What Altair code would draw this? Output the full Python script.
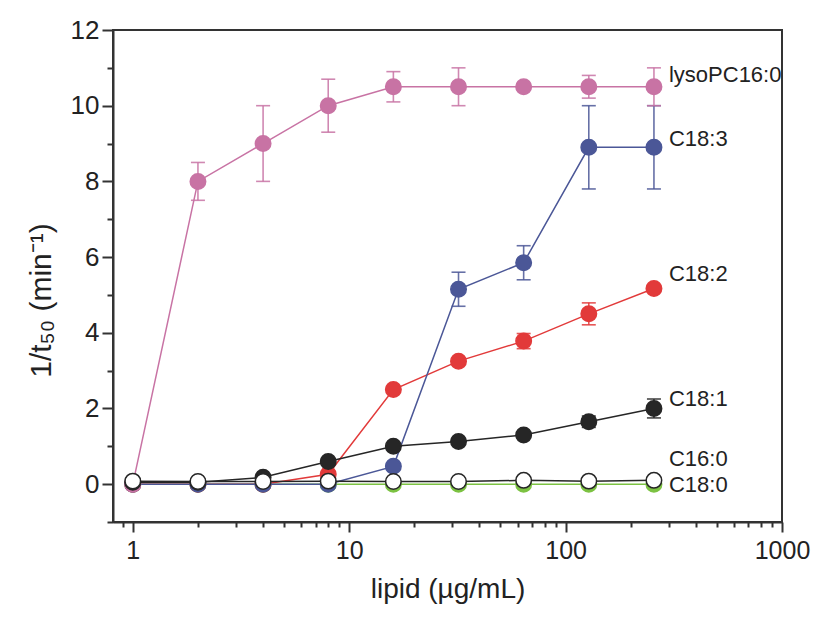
import altair as alt
import pandas as pd

conc = [1, 2, 4, 8, 16, 32, 64, 128, 256]

names = ["C18:0", "C18:2", "C18:3", "lysoPC16:0", "C18:1", "C16:0"]
colors = ["#7CC242", "#E23A3A", "#4B5797", "#C873A4", "#262626", "#FFFFFF"]
strokes = ["#7CC242", "#E23A3A", "#4B5797", "#C873A4", "#262626", "#262626"]

c180 = [0, 0, 0, 0, 0, 0, 0, 0, 0]
c182 = [0, 0, 0, 0.26, 2.5, 3.25, 3.78, 4.5, 5.17]
c183 = [0, 0, 0, 0, 0.47, 5.15, 5.85, 8.9, 8.9]
lyso = [0, 8.0, 9.0, 10.0, 10.5, 10.5, 10.5, 10.5, 10.5]
c181 = [0.05, 0.05, 0.18, 0.6, 1.0, 1.13, 1.3, 1.65, 2.0]
c160 = [0.08, 0.07, 0.07, 0.08, 0.07, 0.07, 0.1, 0.08, 0.1]

e180 = [0, 0, 0, 0, 0, 0, 0, 0, 0]
e182 = [0, 0, 0, 0, 0, 0, 0.2, 0.29, 0.1]
e183 = [0, 0, 0, 0, 0, 0.45, 0.45, 1.1, 1.1]
elyso = [0, 0.5, 1.0, 0.7, 0.4, 0.5, 0, 0.3, 0.5]
e181 = [0, 0, 0, 0, 0, 0, 0, 0.15, 0.25]
e160 = [0, 0, 0, 0, 0, 0, 0, 0, 0]

values = [c180, c182, c183, lyso, c181, c160]
errors = [e180, e182, e183, elyso, e181, e160]

label_text = ["C18:0", "lysoPC16:0", "C18:3", "C18:2", "C18:1", "C16:0"]
label_y = [-0.03, 10.8, 9.13, 5.54, 2.24, 0.66]

x_major = [1, 10, 100, 1000]
x_minor = [0.9, 2, 3, 4, 5, 6, 7, 8, 9, 20, 30, 40, 50, 60, 70, 80, 90,
           200, 300, 400, 500, 600, 700, 800, 900]
y_major = [0, 2, 4, 6, 8, 10, 12]
y_minor = [-1, 1, 3, 5, 7, 9, 11]

FONT = "Liberation Sans"
xscale = alt.Scale(type="log", domain=[0.81, 1000], nice=False)
yscale = alt.Scale(domain=[-1, 12], nice=False, zero=False)

xaxis = alt.Axis(orient="bottom", values=x_major, format="d", tickSize=10, tickWidth=2,
                 domainWidth=2, domainColor="#333", tickColor="#333",
                 labelFont=FONT, labelFontSize=25, labelColor="#222",
                 labelPadding=6, labelFlush=False, labelOverlap=False,
                 title="lipid (µg/mL)", titleFont=FONT, titleFontSize=28,
                 titleFontWeight="normal", titleColor="#222", titlePadding=12,
                 grid=False)
yaxis = alt.Axis(orient="left", values=y_major, format="d", tickSize=11, tickWidth=2,
                 domainWidth=2, domainColor="#333", tickColor="#333",
                 labelFont=FONT, labelFontSize=26, labelColor="#222",
                 labelPadding=3, title="1/t₅₀ (min⁻¹)", titleFont=FONT,
                 titleFontSize=30, titleFontWeight="normal", titleColor="#222",
                 titlePadding=14, titleY=270, grid=False)
xaxis_minor = alt.Axis(orient="bottom", values=x_minor, labels=False, tickSize=5, tickWidth=2,
                       tickColor="#333", domain=False, title=None, grid=False)
yaxis_minor = alt.Axis(orient="left", values=y_minor, labels=False, tickSize=6, tickWidth=2,
                       tickColor="#333", domain=False, title=None, grid=False)

rows = []
for n, v, e in zip(names, values, errors):
    for c, yv, ev in zip(conc, v, e):
        rows.append({"series": n, "conc": c, "val": yv, "err": ev,
                     "lo": yv - ev, "hi": yv + ev})
df = pd.DataFrame(rows)

base_axes = alt.Chart(df).mark_point(opacity=0).encode(
    x=alt.X("conc:Q", scale=xscale, axis=xaxis),
    y=alt.Y("val:Q", scale=yscale, axis=yaxis),
)
minor_axes = alt.Chart(df).mark_point(opacity=0).encode(
    x=alt.X("conc:Q", scale=xscale, axis=xaxis_minor),
    y=alt.Y("val:Q", scale=yscale, axis=yaxis_minor),
)

layers = [base_axes, minor_axes]
for n, fc, sc in zip(names, colors, strokes):
    sub = df[df["series"] == n]
    errsub = sub[sub["err"] > 0]
    base = alt.Chart(sub)
    line = base.mark_line(color=sc, strokeWidth=1.5).encode(
        x=alt.X("conc:Q", scale=xscale, axis=None),
        y=alt.Y("val:Q", scale=yscale, axis=None),
    )
    layers.append(line)
    if len(errsub):
        eb = alt.Chart(errsub)
        rule = eb.mark_rule(color=sc, strokeWidth=1.6, opacity=0.85).encode(
            x=alt.X("conc:Q", scale=xscale, axis=None),
            y=alt.Y("lo:Q", scale=yscale, axis=None),
            y2="hi:Q",
        )
        cap_lo = eb.mark_tick(color=sc, thickness=1.6, size=14, orient="horizontal", opacity=0.85).encode(
            x=alt.X("conc:Q", scale=xscale, axis=None),
            y=alt.Y("lo:Q", scale=yscale, axis=None),
        )
        cap_hi = eb.mark_tick(color=sc, thickness=1.6, size=14, orient="horizontal", opacity=0.85).encode(
            x=alt.X("conc:Q", scale=xscale, axis=None),
            y=alt.Y("hi:Q", scale=yscale, axis=None),
        )
        layers += [rule, cap_lo, cap_hi]
    pts = base.mark_point(filled=True, fill=fc, stroke=sc, strokeWidth=1.5,
                          size=240, opacity=1, shape="circle").encode(
        x=alt.X("conc:Q", scale=xscale, axis=None),
        y=alt.Y("val:Q", scale=yscale, axis=None),
    )
    layers.append(pts)

lab_df = pd.DataFrame({"label": label_text, "y": label_y,
                       "conc": [conc[-1]] * len(label_text)})
labels = alt.Chart(lab_df).mark_text(align="left", baseline="middle", dx=15,
                                     font=FONT, fontSize=22, color="#222").encode(
    x=alt.X("conc:Q", scale=xscale, axis=None),
    y=alt.Y("y:Q", scale=yscale, axis=None),
    text="label:N",
)
layers.append(labels)

chart = alt.layer(*layers).resolve_axis(x="independent", y="independent").properties(
    width=669, height=492,
    autosize=alt.AutoSizeParams(type="none"),
    padding={"left": 113, "top": 30, "right": 39, "bottom": 95},
    background="white",
).configure_view(stroke="#333", strokeWidth=2)

chart.save("out.html", embed_options={"renderer": "svg", "actions": False})
